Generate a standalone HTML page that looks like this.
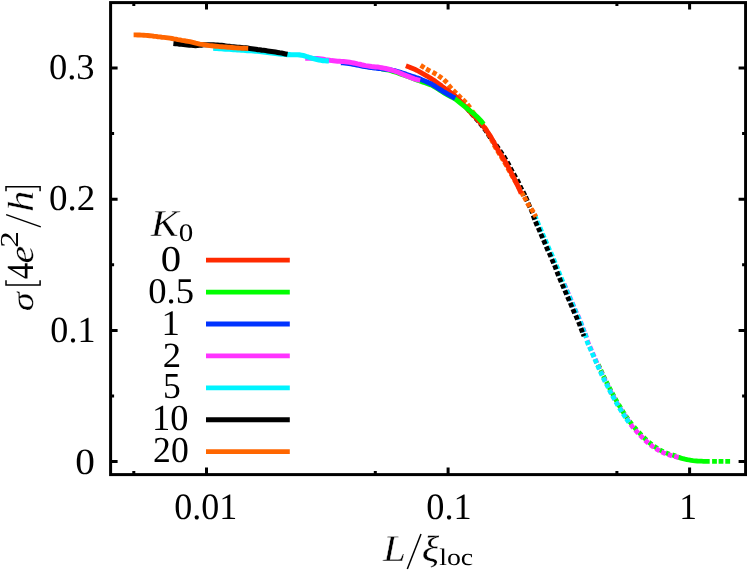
<!DOCTYPE html>
<html><head><meta charset="utf-8"><title>chart</title>
<style>html,body{margin:0;padding:0;background:#fff;overflow:hidden}svg{display:block;will-change:transform}</style></head>
<body>
<svg width="747" height="571" viewBox="0 0 747 571">
<rect width="100%" height="100%" fill="#fff"/>
<g fill="none" stroke-width="4.8">
<path d="M598.2 364.4L599.9 368.0 M600.8 370.1L602.5 373.7 M603.4 375.9L605.2 379.5 M606.3 381.6L608.1 385.2 M609.2 387.3L611.0 390.8 M612.1 392.9L614.0 396.4 M615.1 398.5L617.1 401.9 M618.6 404.5L620.7 408.0 M622.3 410.5L624.4 413.9 M625.7 415.9L628.0 419.2 M629.5 421.3L631.9 424.4 M634.0 426.9L636.6 429.9 M638.7 432.2L641.5 435.1 M643.6 437.3L646.5 440.0 M648.8 442.1L651.8 444.6 M654.1 446.3L657.5 448.6 M659.7 449.9L663.3 451.7 M665.8 452.8L669.5 454.2 M672.2 454.9L676.0 456.1" stroke="#00ff00"/>
<path d="M677.0 457.0 L679.0 457.4 L681.0 458.1 L683.0 458.7 L685.0 459.2 L687.0 459.6 L689.0 460.0 L691.1 460.3 L693.1 460.6 L695.2 460.8 L697.3 461.0 L699.3 461.1 L701.4 461.2 L703.5 461.3 L705.6 461.3 L707.6 461.4 L709.7 461.4" stroke="#00ff00"/>
<path d="M712.1 461.4h4.8m1.7 0h4.8m1.9 0h4.8" stroke="#00ff00"/>
<path d="M564.1 283.9L565.9 288.1 M566.8 290.2L568.6 294.4 M569.5 296.5L571.3 300.7 M572.2 302.7L574.0 306.9 M574.8 308.9L576.6 313.1 M577.7 315.2L579.5 319.4 M580.5 321.6L582.1 325.8 M582.9 328.0L584.5 332.2 M585.2 333.6L586.6 337.8 M587.2 340.4L588.8 344.6 M589.8 346.5L591.6 350.7 M592.5 352.7L594.3 356.9 M595.2 358.9L597.0 363.1 M597.9 365.0L599.7 369.2 M600.7 371.2L602.5 375.2 M603.5 377.4L605.5 381.4 M606.7 383.5L608.7 387.5 M609.7 389.6L611.7 393.6 M612.8 395.5L615.0 399.5 M616.2 401.6L618.4 405.4 M619.8 407.7L622.2 411.5 M623.5 413.5L625.9 417.3 M626.7 418.4L629.3 422.2 M630.6 424.4L633.4 428.0 M635.3 429.9L638.3 433.3 M640.0 435.1L643.2 438.3 M645.0 440.1L648.4 443.1 M650.3 444.8L653.9 447.4 M655.8 448.7L659.6 450.9 M661.4 451.9L665.6 453.7 M667.9 454.5L672.1 455.9 M674.2 456.3L678.6 457.3" stroke="#ff33ff"/>
<path d="M534.8 215.2L536.4 219.4 M537.1 221.3L538.9 225.5 M539.9 227.5L541.7 231.7 M542.5 233.7L544.3 237.9 M545.2 239.8L547.0 244.0 M547.9 246.3L549.7 250.5 M550.8 252.5L552.6 256.7 M553.5 258.9L555.3 263.1 M556.2 265.0L557.8 269.2 M558.6 271.4L560.2 275.6 M561.1 277.7L562.9 281.9 M563.8 283.9L565.6 288.1 M566.5 290.2L568.3 294.4 M569.2 296.5L571.0 300.7 M571.9 302.7L573.7 306.9 M574.5 308.9L576.3 313.1 M577.4 315.2L579.2 319.4 M580.2 321.6L581.8 325.8 M582.6 328.0L584.2 332.2 M584.9 333.6L586.3 337.8 M586.8 340.6L588.4 344.8 M589.4 346.7L591.2 350.9 M592.1 352.9L593.9 357.1 M594.8 359.1L596.6 363.3 M597.5 365.2L599.3 369.4 M600.3 371.4L602.1 375.4 M603.1 377.6L605.1 381.6 M606.3 383.7L608.3 387.7 M609.3 389.8L611.3 393.8 M612.4 395.7L614.6 399.7 M615.8 401.8L618.0 405.6 M619.4 407.9L621.8 411.7 M623.1 413.7L625.5 417.5 M626.3 418.6L628.9 422.4" stroke="#00f4ff"/>
<path d="M466.8 108.0L469.7 111.4 M471.1 113.1L474.1 116.5 M475.6 118.1L478.6 121.5 M480.0 123.3L482.9 126.8 M484.3 128.5L486.9 132.2 M488.0 134.1L490.5 137.9 M491.8 139.7L494.5 143.4 M496.0 145.0L498.7 148.6 M499.9 150.5L502.4 154.3 M503.7 156.1L506.0 159.9 M507.2 161.9L509.4 165.8 M510.3 167.8L512.5 171.8 M513.6 173.8L515.8 177.7 M517.1 179.5L519.1 183.5 M519.9 185.7L521.9 189.7 M523.0 191.5L525.0 195.5 M525.6 196.8L527.4 201.0 M528.1 203.0L529.9 207.2 M530.9 208.9L532.5 213.1 M533.1 215.4L534.7 219.6 M535.4 221.5L537.2 225.7 M538.2 227.7L540.0 231.9 M540.8 233.9L542.6 238.1 M543.5 240.0L545.3 244.2 M546.2 246.5L548.0 250.7 M549.1 252.7L550.9 256.9 M551.8 259.1L553.6 263.3 M554.5 265.2L556.1 269.4 M556.9 271.6L558.5 275.8 M559.4 277.9L561.2 282.1 M562.1 284.1L563.9 288.3 M564.8 290.4L566.6 294.6 M567.5 296.7L569.3 300.9 M570.2 302.9L572.0 307.1 M572.8 309.1L574.6 313.3 M575.7 315.4L577.5 319.6 M578.5 321.8L580.1 326.0 M580.9 328.2L582.5 332.4 M583.0 333.8L584.0 336.2" stroke="#000000"/>
<path d="M420.6 65.4L424.4 67.8 M426.1 68.9L430.1 71.1 M432.6 72.1L436.4 74.3 M438.4 75.7L442.0 78.3 M443.9 79.6L447.1 82.8 M448.5 85.2L451.5 88.6 M453.2 90.2L456.4 93.4 M458.0 94.9L461.2 98.1 M462.8 99.5L466.0 102.7 M467.3 104.2L470.1 107.8 M472.0 111.0L474.6 114.6 M475.9 116.4L478.7 120.0 M480.3 121.6L483.0 125.2 M484.4 126.9L486.9 130.7 M487.9 132.7L490.0 136.7 M491.0 138.7L493.1 142.7 M494.0 144.8L496.2 148.7 M497.4 150.6L499.7 154.4 M501.0 156.3L503.3 160.2 M504.4 162.1L506.7 166.0 M507.7 168.0L509.9 171.9 M511.0 173.9L513.2 177.8 M514.4 179.8L516.6 183.6 M517.8 185.6L520.0 189.5 M521.4 192.0L523.6 196.0 M524.2 196.9L526.4 200.9 M527.3 203.0L529.7 206.8 M531.0 208.6L533.6 212.4 M534.4 214.2L535.9 216.9" stroke="#ff6600"/>
</g>
<g fill="none" stroke-width="4.8">
<path d="M405.9 65.8 L407.8 66.5 L409.7 67.2 L411.5 68.0 L413.4 68.8 L415.2 69.6 L417.0 70.4 L418.8 71.3 L420.6 72.3 L422.3 73.3 L424.1 74.3 L425.8 75.3 L427.5 76.3 L429.2 77.4 L430.9 78.4 L432.6 79.5 L434.3 80.6 L435.9 81.8 L437.6 82.9 L439.2 84.1 L440.8 85.3 L442.4 86.6 L444.0 87.8 L445.6 88.9 L447.3 90.1 L448.9 91.2 L450.5 92.4 L452.2 93.6 L453.7 94.8 L455.3 96.1 L456.7 97.5 L458.2 98.9 L459.6 100.3 L461.0 101.8 L462.3 103.3 L463.7 104.8 L465.0 106.2 L466.3 107.7 L467.7 109.2 L469.0 110.7 L470.4 112.2 L471.8 113.6 L473.2 115.1 L474.6 116.5 L476.0 117.9 L477.4 119.4 L478.7 120.9 L480.0 122.4 L481.4 123.9 L482.7 125.5 L483.9 127.0 L485.1 128.6 L486.3 130.2 L487.5 131.8 L488.6 133.5 L489.7 135.2 L490.8 136.9 L491.8 138.6 L492.8 140.4 L493.8 142.1 L494.6 143.9 L495.5 145.7 L496.5 147.5 L497.5 149.2 L498.6 150.9 L499.6 152.6 L500.7 154.3 L501.8 156.0 L502.8 157.7 L503.9 159.5 L504.9 161.2 L505.9 162.9 L506.8 164.7 L507.8 166.4 L508.8 168.2 L509.7 170.0 L510.6 171.8 L511.6 173.6 L512.5 175.3 L513.4 177.1 L514.3 178.9 L515.2 180.7 L516.1 182.5 L517.0 184.3 L517.9 186.1 L518.7 187.9 L519.6 189.7 L520.4 191.6 L521.2 193.4" stroke="#ff2a00" stroke-width="4.9"/>
<path d="M381.0 68.9 L383.0 69.1 L385.0 69.5 L387.0 69.8 L388.9 70.2 L390.9 70.7 L392.8 71.3 L394.7 71.9 L396.6 72.5 L398.5 73.2 L400.4 73.9 L402.3 74.6 L404.2 75.2 L406.1 75.9 L408.0 76.5 L409.9 77.2 L411.8 77.9 L413.7 78.7 L415.5 79.4 L417.4 80.1 L419.3 80.7 L421.2 81.4 L423.1 82.1 L425.0 82.8 L426.9 83.5 L428.8 84.2 L430.7 84.8 L432.5 85.6 L434.2 86.6 L436.0 87.7 L437.7 88.8 L439.4 89.9 L441.0 90.9 L442.7 92.0 L444.4 93.1 L446.2 94.1 L447.9 95.1 L449.7 96.1 L451.5 97.0 L453.3 97.9 L455.0 98.9 L456.6 100.1 L458.2 101.3 L459.8 102.6 L461.3 103.9 L462.9 105.1 L464.5 106.4 L466.0 107.6 L467.6 108.9 L469.2 110.1 L470.8 111.4 L472.3 112.6 L473.9 113.9 L475.4 115.3 L476.8 116.6 L478.3 118.1 L479.7 119.5 L481.1 121.0 L482.4 122.5 L483.7 124.0" stroke="#00ff00" stroke-width="4.9"/>
<path d="M340.9 62.7 L342.9 62.8 L344.9 63.0 L346.9 63.3 L348.9 63.5 L350.9 63.9 L352.9 64.2 L354.9 64.6 L356.9 65.0 L358.9 65.4 L360.9 65.8 L362.8 66.2 L364.8 66.5 L366.8 66.9 L368.8 67.2 L370.8 67.4 L372.8 67.7 L374.8 67.9 L376.8 68.2 L378.8 68.4 L380.9 68.6 L382.9 68.9 L384.9 69.1 L386.9 69.4 L388.9 69.6 L390.9 70.0 L392.9 70.4 L394.8 70.8 L396.8 71.3 L398.7 71.9 L400.6 72.5 L402.6 73.1 L404.5 73.7 L406.4 74.4 L408.3 75.0 L410.2 75.7 L412.2 76.3 L414.1 76.9 L416.0 77.6 L417.9 78.2 L419.8 78.9 L421.7 79.7 L423.5 80.5 L425.4 81.3 L427.2 82.1 L429.1 83.0 L430.9 83.8 L432.7 84.8 L434.4 85.8 L436.1 87.0 L437.8 88.1 L439.5 89.1 L441.2 90.2 L442.9 91.3 L444.6 92.3 L446.4 93.3 L448.1 94.4 L449.9 95.3 L451.7 96.3 L453.4 97.3 L455.2 98.3" stroke="#0033ff" stroke-width="5.0"/>
<path d="M305.2 58.2 L307.2 58.2 L309.3 58.2 L311.3 58.3 L313.3 58.4 L315.4 58.5 L317.4 58.6 L319.4 58.7 L321.4 59.0 L323.4 59.3 L325.4 59.7 L327.4 60.0 L329.4 60.3 L331.5 60.6 L333.5 60.8 L335.5 61.0 L337.5 61.2 L339.5 61.3 L341.6 61.5 L343.6 61.6 L345.6 61.8 L347.6 62.0 L349.7 62.2 L351.7 62.6 L353.7 63.0 L355.6 63.4 L357.6 63.9 L359.6 64.3 L361.6 64.8 L363.6 65.2 L365.6 65.6 L367.6 65.9 L369.6 66.2 L371.6 66.5 L373.6 66.7 L375.6 66.9 L377.7 67.1 L379.7 67.4 L381.7 67.7 L383.7 68.1 L385.7 68.5 L387.6 69.0 L389.6 69.5 L391.5 70.1 L393.5 70.7 L395.4 71.3 L397.3 72.0 L399.2 72.8 L401.1 73.6 L402.9 74.4 L404.8 75.1 L406.7 75.9 L408.6 76.6 L410.5 77.4 L412.4 78.1 L414.3 78.8 L416.2 79.4 L418.2 79.9 L420.2 80.3" stroke="#ff33ff" stroke-width="5.0"/>
<path d="M213.2 48.3 L215.2 48.4 L217.2 48.5 L219.2 48.7 L221.2 48.8 L223.2 48.9 L225.3 49.1 L227.3 49.2 L229.3 49.3 L231.3 49.5 L233.3 49.6 L235.3 49.7 L237.3 49.9 L239.3 50.0 L241.3 50.1 L243.3 50.3 L245.3 50.4 L247.3 50.6 L249.3 50.7 L251.4 50.8 L253.4 51.0 L255.4 51.2 L257.4 51.3 L259.4 51.5 L261.4 51.7 L263.4 51.9 L265.4 52.2 L267.4 52.5 L269.4 52.7 L271.4 53.0 L273.4 53.2 L275.4 53.4 L277.4 53.7 L279.4 53.9 L281.4 54.1 L283.4 54.3 L285.4 54.5 L287.4 54.6 L289.4 54.6 L291.4 54.7 L293.4 54.7 L295.4 54.8 L297.4 54.8 L299.5 54.9 L301.5 55.2 L303.4 55.5 L305.3 56.1 L307.2 56.8 L309.2 57.4 L311.1 58.0 L313.0 58.6 L315.0 59.0 L316.9 59.5 L318.9 59.9 L320.9 60.3 L322.9 60.6 L324.9 60.8 L326.9 60.9 L328.9 61.0" stroke="#00f4ff" stroke-width="5.1"/>
<path d="M173.4 43.4 L175.4 43.6 L177.4 43.8 L179.4 44.1 L181.4 44.3 L183.4 44.5 L185.4 44.7 L187.4 44.9 L189.4 45.1 L191.5 45.3 L193.5 45.5 L195.5 45.6 L197.5 45.5 L199.5 45.3 L201.5 45.1 L203.5 44.8 L205.5 44.7 L207.5 44.7 L209.5 44.8 L211.5 44.8 L213.6 44.9 L215.6 45.0 L217.6 45.1 L219.6 45.2 L221.6 45.4 L223.6 45.6 L225.6 45.9 L227.6 46.2 L229.6 46.4 L231.6 46.7 L233.6 46.9 L235.6 47.1 L237.6 47.3 L239.6 47.4 L241.6 47.6 L243.7 47.8 L245.7 47.9 L247.7 48.1 L249.7 48.4 L251.7 48.7 L253.7 49.0 L255.7 49.3 L257.6 49.6 L259.6 49.8 L261.6 50.1 L263.6 50.3 L265.6 50.6 L267.6 50.9 L269.6 51.2 L271.6 51.5 L273.6 51.8 L275.6 52.1 L277.6 52.4 L279.6 52.8 L281.6 53.1 L283.5 53.5 L285.5 53.9 L287.5 54.3" stroke="#000000" stroke-width="5.1"/>
<path d="M133.6 34.9 L135.6 34.9 L137.7 35.0 L139.7 35.0 L141.7 35.1 L143.7 35.2 L145.8 35.4 L147.8 35.5 L149.8 35.7 L151.8 35.9 L153.8 36.2 L155.8 36.4 L157.9 36.7 L159.9 36.9 L161.9 37.2 L163.9 37.4 L165.9 37.6 L167.9 37.9 L169.9 38.2 L171.9 38.5 L173.9 38.9 L175.9 39.2 L177.9 39.6 L179.9 39.9 L181.9 40.3 L183.9 40.6 L185.9 41.0 L187.9 41.3 L189.9 41.7 L191.9 42.2 L193.8 42.7 L195.8 43.2 L197.8 43.6 L199.8 44.1 L201.8 44.4 L203.8 44.7 L205.8 45.0 L207.8 45.3 L209.8 45.6 L211.8 45.8 L213.8 46.0 L215.8 46.2 L217.9 46.4 L219.9 46.6 L221.9 46.7 L223.9 46.9 L225.9 47.0 L228.0 47.2 L230.0 47.3 L232.0 47.5 L234.0 47.7 L236.0 47.9 L238.1 48.0 L240.1 48.1 L242.1 48.2 L244.1 48.3 L246.2 48.4 L248.2 48.5" stroke="#ff6600" stroke-width="4.9"/>
</g>
<g fill="none" stroke-width="4.8">
<path d="M206 260.15H289.8" stroke="#ff2a00"/>
<path d="M206 292.07H289.8" stroke="#00ff00"/>
<path d="M206 323.99H289.8" stroke="#0033ff"/>
<path d="M206 355.91H289.8" stroke="#ff33ff"/>
<path d="M206 387.83H289.8" stroke="#00f4ff"/>
<path d="M206 419.75H289.8" stroke="#000000"/>
<path d="M206 451.67H289.8" stroke="#ff6600"/>
</g>
<g fill="none" stroke="#000" stroke-width="3">
<rect x="110.6" y="2.6" width="635.0" height="472.0"/>
<path d="M133.8 474.6v-3.5 M133.8 2.6v3.5 M206.5 474.6v-7.0 M206.5 2.6v7.0 M375.3 474.6v-3.5 M375.3 2.6v3.5 M448.1 474.6v-7.0 M448.1 2.6v7.0 M616.9 474.6v-3.5 M616.9 2.6v3.5 M689.6 474.6v-7.0 M689.6 2.6v7.0 M110.6 461.6h7.0 M745.6 461.6h-7.0 M110.6 396.0h3.5 M745.6 396.0h-3.5 M110.6 330.4h7.0 M745.6 330.4h-7.0 M110.6 264.8h3.5 M745.6 264.8h-3.5 M110.6 199.2h7.0 M745.6 199.2h-7.0 M110.6 133.6h3.5 M745.6 133.6h-3.5 M110.6 68.0h7.0 M745.6 68.0h-7.0"/>
</g>
<g font-family="Liberation Serif, serif" font-size="36" fill="#000" text-rendering="geometricPrecision">
<text transform="matrix(1.0161 0 0 1.0090 48.94 79.16)">0.3</text>
<text transform="matrix(1.0293 0 0 1.0131 48.92 210.35)">0.2</text>
<text transform="matrix(1.0024 0 0 1.0212 50.36 342.45)">0.1</text>
<text transform="matrix(1.0913 0 0 1.0288 75.13 474.23)">0</text>
<text transform="matrix(1.0000 0 0 1.0335 174.36 518.54)">0.01</text>
<text transform="matrix(1.0097 0 0 1.0335 426.35 518.54)">0.1</text>
<text transform="matrix(0.9841 0 0 1.0178 679.31 519.10)">1</text>
<text transform="matrix(1.1310 0 0 1.0123 160.87 270.94)">0</text>
<text transform="matrix(1.0185 0 0 1.0049 148.13 302.66)">0.5</text>
<text transform="matrix(1.0238 0 0 1.0051 161.58 334.70)">1</text>
<text transform="matrix(1.0208 0 0 0.9848 162.75 366.70)">2</text>
<text transform="matrix(0.9861 0 0 1.0150 163.07 398.23)">5</text>
<text transform="matrix(1.0121 0 0 1.0165 152.02 429.83)">10</text>
<text transform="matrix(0.9897 0 0 1.0123 153.10 462.04)">20</text>
<text transform="matrix(1.1651 0 0 1.0556 150.72 236.10)" font-style="italic" stroke="#fff" stroke-width="0.40">K</text>
<text transform="matrix(0.8069 0 0 0.6955 178.64 241.45)">0</text>
<text transform="matrix(1.1485 0 0 1.0513 383.11 560.80)" font-style="italic" stroke="#fff" stroke-width="0.40">L</text>
<path d="M407.3 568.9L421 534.1" stroke="#000" stroke-width="1.5" fill="none"/>
<text transform="matrix(1.1254 0 0 1.0121 421.78 560.82)" font-style="italic" stroke="#fff" stroke-width="0.20">ξ</text>
<text transform="matrix(0.7740 0 0 0.6587 439.14 565.26)">loc</text>
<g transform="translate(0 310) rotate(-90)">
<text transform="matrix(1.0662 0 0 0.8783 -1.15 32.78)" font-style="italic" stroke="#fff" stroke-width="0.20">σ</text>
<path d="M29.7 6H25.1V40.1H29.7" stroke="#000" stroke-width="1.5" fill="none"/>
<text transform="matrix(0.9140 0 0 1.0641 30.64 33.09)">4</text>
<text transform="matrix(1.0969 0 0 0.9606 46.62 32.75)" font-style="italic" stroke="#fff" stroke-width="0.20">e</text>
<text transform="matrix(0.9167 0 0 0.7197 62.31 18.10)">2</text>
<path d="M83.1 40.8L95.4 6.1" stroke="#000" stroke-width="1.5" fill="none"/>
<text transform="matrix(1.1961 0 0 1.0097 97.89 33.08)" font-style="italic" stroke="#fff" stroke-width="0.40">h</text>
<path d="M118.7 6H123.3V40.1H118.7" stroke="#000" stroke-width="1.5" fill="none"/>
</g>
</g>
</svg>
</body></html>
